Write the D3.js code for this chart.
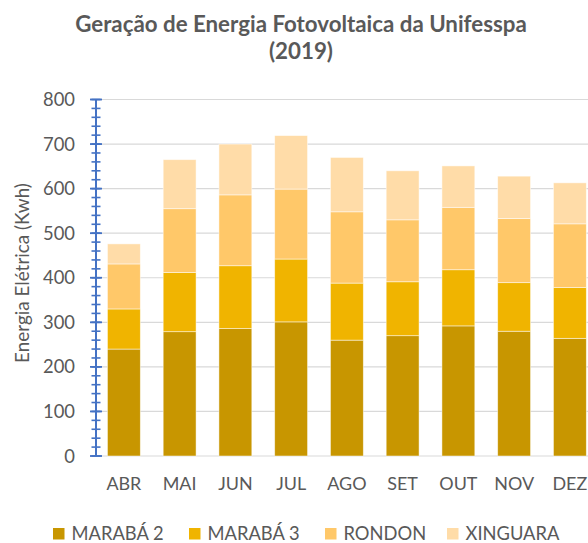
<!DOCTYPE html>
<html><head><meta charset="utf-8">
<script src="https://cdn.jsdelivr.net/npm/d3@7"></script>
<style>body{margin:0;background:#fff} svg{display:block}</style>
</head><body><svg id="c" width="588" height="543"></svg>
<script>
const months = ["ABR","MAI","JUN","JUL","AGO","SET","OUT","NOV","DEZ"];
const seriesNames = ["MARABÁ 2","MARABÁ 3","RONDON","XINGUARA"];
const maraba2  = [240,279,286,301,260,270,292,280,264];
const maraba3  = [90,133,141,141,128,121,126,109,114];
const rondon   = [101,143,159,157,160,139,140,144,143];
const xinguara = [45,110,114,120,122,110,93,95,92];
const colors = ["#C89600","#F0B400","#FFC869","#FFDCA8"];
const yTicks = [0,100,200,300,400,500,600,700,800];
const minorTicks = d3.range(0, 801, 20);
const titleLines = ["Geração de Energia Fotovoltaica da Unifesspa","(2019)"];
const yTitle = "Energia Elétrica (Kwh)";

const svg = d3.select("#c");
const FONT = "Lato, 'Open Sans', sans-serif";
const GREY = "#595959";
const plotLeft = 96, plotTop = 99.5, plotBottom = 456;
const step = 55.75;
const x = d3.scaleBand().domain(months).range([plotLeft, plotLeft + step*months.length]).paddingInner(0.41).paddingOuter(0.205);
const y = d3.scaleLinear().domain([0, 800]).range([plotBottom, plotTop]);

function fitSize(refNode, baseSize, targetWidth) {
  const w = refNode.getComputedTextLength();
  return w > 0 ? baseSize * targetWidth / w : baseSize;
}

// gridlines
svg.append("g").selectAll("line").data(yTicks).join("line")
  .attr("x1", plotLeft).attr("x2", 588)
  .attr("y1", d => y(d)).attr("y2", d => y(d))
  .attr("stroke", "#D9D9D9").attr("stroke-width", 1.2);

// stacked bars
const rows = months.map((m,i) => ({month:m, "MARABÁ 2":maraba2[i], "MARABÁ 3":maraba3[i], "RONDON":rondon[i], "XINGUARA":xinguara[i]}));
const stack = d3.stack().keys(seriesNames)(rows);
svg.append("g").selectAll("g").data(stack).join("g")
  .attr("fill", (d,i) => colors[i])
  .selectAll("rect").data(d => d).join("rect")
  .attr("x", d => x(d.data.month))
  .attr("width", x.bandwidth())
  .attr("y", d => y(d[1]))
  .attr("height", d => y(d[0]) - y(d[1]))
  .attr("stroke", "#fff").attr("stroke-opacity", 0.6).attr("stroke-width", 0.8);

// y axis line and ticks
const ax = svg.append("g");
ax.selectAll("line.minor").data(minorTicks).join("line").attr("class","minor")
  .attr("x1", plotLeft-4.5).attr("x2", plotLeft+4.5)
  .attr("y1", d => y(d)).attr("y2", d => y(d))
  .attr("stroke", "#4472C4").attr("stroke-width", 1.6);
ax.selectAll("line.major").data(yTicks).join("line").attr("class","major")
  .attr("x1", plotLeft-6).attr("x2", plotLeft+6)
  .attr("y1", d => y(d)).attr("y2", d => y(d))
  .attr("stroke", "#4472C4").attr("stroke-width", 1.8);
ax.append("line").attr("x1", plotLeft).attr("x2", plotLeft).attr("y1", y(800)).attr("y2", y(0))
  .attr("stroke", "#4472C4").attr("stroke-width", 2);

// y tick labels
const yl = svg.append("g").selectAll("text").data(yTicks).join("text")
  .attr("x", 75).attr("y", d => y(d)).attr("dy", "0.36em")
  .attr("text-anchor", "end").attr("font-family", FONT).attr("font-size", 18)
  .attr("fill", GREY).text(d => d);
yl.attr("font-size", fitSize(yl.nodes()[8], 18, 32));

// x labels
const xl = svg.append("g").selectAll("text").data(months).join("text")
  .attr("x", d => x(d) + x.bandwidth()/2).attr("y", 490)
  .attr("text-anchor", "middle").attr("font-family", FONT).attr("font-size", 17)
  .attr("fill", GREY).text(d => d);
xl.attr("font-size", fitSize(xl.nodes()[0], 17, 35));

// y title
const yt = svg.append("text").attr("transform", `translate(29,273) rotate(-90)`)
  .attr("text-anchor", "middle").attr("font-family", FONT).attr("font-size", 16)
  .attr("fill", GREY).text(yTitle);
yt.attr("font-size", fitSize(yt.node(), 16, 180));

// title
const tt = svg.append("g").selectAll("text").data(titleLines).join("text")
  .attr("x", 301).attr("y", (d,i) => i === 0 ? 32 : 59)
  .attr("text-anchor", "middle").attr("font-family", FONT).attr("font-weight", "bold")
  .attr("font-size", 20).attr("fill", GREY).text(d => d);
tt.attr("font-size", fitSize(tt.nodes()[0], 20, 452));

// legend
const legendX = [53, 189, 325, 447];
const lg = svg.append("g").selectAll("g").data(seriesNames).join("g")
  .attr("transform", (d,i) => `translate(${legendX[i]},528)`);
lg.append("rect").attr("width", 11.5).attr("height", 11.5).attr("fill", (d,i) => colors[i]);
const lt = lg.append("text").attr("x", 18.5).attr("y", 12).attr("font-family", FONT).attr("font-size", 16)
  .attr("fill", GREY).text(d => d);
lt.attr("font-size", fitSize(lt.nodes()[3], 16, 94));
</script></body></html>
